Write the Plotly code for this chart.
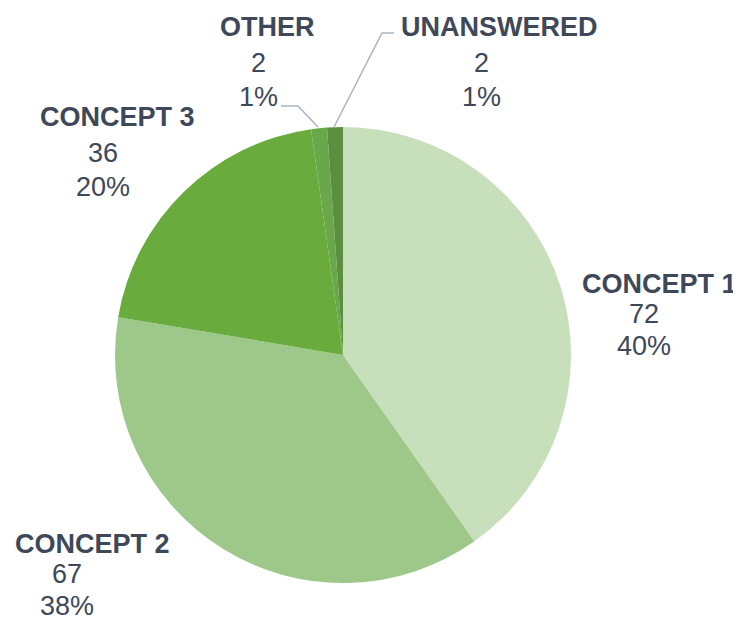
import plotly.graph_objects as go

# the page body has an 8px default margin; the figure is sized to fill the remaining window
OFF = 8
W, H = 741 - OFF, 626 - OFF

categories = ["CONCEPT 1", "CONCEPT 2", "CONCEPT 3", "OTHER", "UNANSWERED"]
counts = [72, 67, 36, 2, 2]
percent_labels = ["40%", "38%", "20%", "1%", "1%"]
colors = ["#c8dfbb", "#9dc889", "#69ac3d", "#6aa64a", "#5b8f40"]

# label layout in window pixels: name center x, number center x, y of each line
label_pos = {
    "CONCEPT 1": dict(nx=659, vx=644, ys=(284, 314, 346)),
    "CONCEPT 2": dict(nx=92, vx=67, ys=(544, 574, 606)),
    "CONCEPT 3": dict(nx=117, vx=103, ys=(117, 153, 187)),
    "OTHER": dict(nx=267, vx=258, ys=(27, 63, 97)),
    "UNANSWERED": dict(nx=499, vx=481, ys=(27, 63, 97)),
}

text_color = "#3e4859"
cx, cy, r = 343, 355, 228


def px(x):
    return (x - OFF) / W


def py(y):
    return 1 - (y - OFF) / H


fig = go.Figure(go.Pie(
    labels=categories,
    values=counts,
    sort=False,
    direction="clockwise",
    rotation=0,
    marker=dict(colors=colors, line=dict(width=0)),
    textinfo="none",
    hoverinfo="label+value+percent",
    showlegend=False,
    domain=dict(x=[px(cx - r), px(cx + r)], y=[py(cy + r), py(cy - r)]),
))

annotations = []
for cat, n, p in zip(categories, counts, percent_labels):
    pos = label_pos[cat]
    y1, y2, y3 = pos["ys"]
    annotations.append(dict(x=px(pos["nx"]), y=py(y1), xref="paper", yref="paper",
                            text=f"<b>{cat}</b>", showarrow=False,
                            xanchor="center", yanchor="middle",
                            font=dict(family="Liberation Sans, Arial", size=27, color=text_color)))
    annotations.append(dict(x=px(pos["vx"]), y=py(y2), xref="paper", yref="paper",
                            text=str(n), showarrow=False,
                            xanchor="center", yanchor="middle",
                            font=dict(family="Liberation Sans, Arial", size=27, color=text_color)))
    annotations.append(dict(x=px(pos["vx"]), y=py(y3), xref="paper", yref="paper",
                            text=p, showarrow=False,
                            xanchor="center", yanchor="middle",
                            font=dict(family="Liberation Sans, Arial", size=27, color=text_color)))

line_color = "#a9b5c3"
shapes = [
    dict(type="path", xref="paper", yref="paper",
         path=f"M {px(281)} {py(106)} L {px(298)} {py(106)} L {px(318)} {py(127)}",
         line=dict(color=line_color, width=1.5)),
    dict(type="path", xref="paper", yref="paper",
         path=f"M {px(394)} {py(33)} L {px(382)} {py(33)} L {px(334)} {py(127)}",
         line=dict(color=line_color, width=1.5)),
]

fig.update_layout(
    width=W, height=H,
    margin=dict(l=0, r=0, t=0, b=0),
    paper_bgcolor="white",
    plot_bgcolor="white",
    annotations=annotations,
    shapes=shapes,
)

fig.write_html("out.html")
